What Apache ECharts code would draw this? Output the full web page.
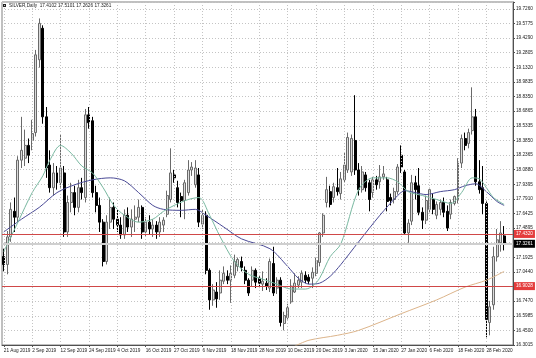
<!DOCTYPE html>
<html><head><meta charset="utf-8">
<script src="https://cdn.jsdelivr.net/npm/echarts@6/dist/echarts.min.js"></script>
<style>html,body{margin:0;padding:0;background:#fff;overflow:hidden}#c{width:536px;height:358px}</style>
</head><body><div id="c"></div>
<script>
const dates = [
'21 Aug 2019','22 Aug 2019','23 Aug 2019','26 Aug 2019','27 Aug 2019','28 Aug 2019','29 Aug 2019','30 Aug 2019',
'2 Sep 2019','3 Sep 2019','4 Sep 2019','5 Sep 2019','6 Sep 2019','9 Sep 2019','10 Sep 2019','11 Sep 2019','12 Sep 2019','13 Sep 2019','16 Sep 2019','17 Sep 2019','18 Sep 2019','19 Sep 2019','20 Sep 2019','23 Sep 2019','24 Sep 2019','25 Sep 2019','26 Sep 2019','27 Sep 2019','30 Sep 2019',
'1 Oct 2019','2 Oct 2019','3 Oct 2019','4 Oct 2019','7 Oct 2019','8 Oct 2019','9 Oct 2019','10 Oct 2019','11 Oct 2019','14 Oct 2019','15 Oct 2019','16 Oct 2019','17 Oct 2019','18 Oct 2019','21 Oct 2019','22 Oct 2019','23 Oct 2019','24 Oct 2019','25 Oct 2019','27 Oct 2019','28 Oct 2019','29 Oct 2019','30 Oct 2019','31 Oct 2019',
'1 Nov 2019','4 Nov 2019','5 Nov 2019','6 Nov 2019','7 Nov 2019','8 Nov 2019','11 Nov 2019','12 Nov 2019','13 Nov 2019','14 Nov 2019','15 Nov 2019','18 Nov 2019','19 Nov 2019','20 Nov 2019','21 Nov 2019','22 Nov 2019','25 Nov 2019','26 Nov 2019','27 Nov 2019','28 Nov 2019','29 Nov 2019',
'2 Dec 2019','3 Dec 2019','4 Dec 2019','5 Dec 2019','6 Dec 2019','9 Dec 2019','10 Dec 2019','11 Dec 2019','12 Dec 2019','13 Dec 2019','16 Dec 2019','17 Dec 2019','18 Dec 2019','19 Dec 2019','20 Dec 2019','23 Dec 2019','24 Dec 2019','26 Dec 2019','27 Dec 2019','30 Dec 2019','31 Dec 2019',
'2 Jan 2020','3 Jan 2020','6 Jan 2020','7 Jan 2020','8 Jan 2020','9 Jan 2020','10 Jan 2020','13 Jan 2020','14 Jan 2020','15 Jan 2020','16 Jan 2020','17 Jan 2020','20 Jan 2020','21 Jan 2020','22 Jan 2020','23 Jan 2020','24 Jan 2020','27 Jan 2020','28 Jan 2020','29 Jan 2020','30 Jan 2020','31 Jan 2020',
'3 Feb 2020','4 Feb 2020','5 Feb 2020','6 Feb 2020','7 Feb 2020','10 Feb 2020','11 Feb 2020','12 Feb 2020','13 Feb 2020','14 Feb 2020','17 Feb 2020','18 Feb 2020','19 Feb 2020','20 Feb 2020','21 Feb 2020','24 Feb 2020','25 Feb 2020','26 Feb 2020','27 Feb 2020','28 Feb 2020',
'2 Mar 2020','3 Mar 2020','4 Mar 2020','5 Mar 2020','6 Mar 2020',' ','  '
];
const opens = [17.20,17.12,17.40,17.66,17.60,18.18,18.20,18.33,18.38,18.46,19.20,19.52,18.62,18.13,17.90,18.05,17.95,18.05,17.45,17.75,17.85,17.70,17.90,17.80,18.64,18.58,17.85,17.72,17.55,17.15,17.55,17.70,17.58,17.52,17.42,17.62,17.50,17.58,17.60,17.70,17.45,17.55,17.48,17.52,17.45,17.52,17.63,17.78,18.03,17.90,17.81,17.77,17.85,18.08,17.93,18.03,17.53,17.62,17.06,16.76,16.84,16.83,16.95,17.00,16.96,17.01,17.10,17.15,17.06,16.96,16.96,17.06,16.98,16.92,16.93,16.88,17.13,16.88,16.96,16.52,16.58,16.74,16.84,16.91,16.94,17.01,16.99,16.98,17.03,17.14,17.44,17.75,17.86,17.80,17.90,17.84,17.98,18.08,18.06,18.38,18.08,17.88,18.03,17.95,17.85,17.98,17.96,18.01,17.98,17.80,17.78,17.86,18.23,18.06,17.44,17.56,17.95,17.92,17.65,17.57,17.68,17.78,17.62,17.68,17.75,17.66,17.63,17.74,17.78,18.15,18.40,18.35,18.48,18.62,17.96,17.90,17.74,16.53,16.71,17.20,17.34,17.4102];
const highs = [17.28,17.46,17.75,17.80,18.22,18.62,18.49,18.40,18.59,19.30,19.62,19.55,18.72,18.28,18.15,18.12,18.44,18.12,17.82,17.95,17.92,17.98,18.00,18.70,18.72,18.62,17.92,17.80,17.58,17.62,17.80,17.75,17.68,17.60,17.68,17.70,17.68,17.72,17.78,17.72,17.60,17.62,17.58,17.56,17.60,17.60,17.87,18.30,18.08,17.97,17.85,17.98,18.18,18.16,18.18,18.10,17.68,17.66,17.08,16.92,16.94,17.06,17.10,17.06,17.11,17.22,17.19,17.20,17.10,16.98,17.10,17.08,17.00,17.05,16.98,17.18,17.30,16.99,16.99,16.64,16.72,16.97,17.03,17.00,17.06,17.05,17.02,17.09,17.19,17.45,17.64,18.01,17.92,17.95,18.10,18.06,18.26,18.46,18.44,18.84,18.15,18.12,18.06,17.98,18.01,18.02,18.13,18.12,18.01,17.84,17.90,18.14,18.33,18.08,17.58,18.03,18.02,18.10,17.70,17.82,17.90,17.84,17.76,17.78,17.80,17.72,17.78,17.82,18.20,18.44,18.46,18.50,18.92,18.70,18.18,18.12,17.76,16.75,17.30,17.48,17.56,17.5101];
const lows = [17.05,17.02,17.35,17.45,17.55,18.10,18.12,18.15,18.28,18.42,19.12,18.55,18.00,17.85,17.82,17.88,17.90,17.40,17.40,17.65,17.62,17.65,17.78,17.75,18.50,17.80,17.65,17.45,17.10,17.12,17.48,17.48,17.45,17.38,17.38,17.45,17.40,17.45,17.55,17.38,17.40,17.42,17.40,17.38,17.40,17.45,17.60,17.75,17.95,17.70,17.60,17.58,17.82,18.02,17.90,17.50,17.48,17.02,16.66,16.70,16.68,16.76,16.92,16.92,16.73,16.98,17.05,17.05,16.92,16.80,16.90,16.88,16.88,16.85,16.86,16.84,16.80,16.82,16.49,16.45,16.56,16.72,16.83,16.88,16.88,16.93,16.92,16.88,17.00,17.10,17.40,17.70,17.70,17.75,17.82,17.78,17.95,18.05,18.02,18.03,17.82,17.85,17.86,17.66,17.80,17.88,17.89,17.98,17.66,17.72,17.74,17.83,18.05,17.42,17.34,17.52,17.78,17.62,17.48,17.53,17.64,17.63,17.58,17.62,17.60,17.46,17.58,17.72,17.74,18.10,18.28,18.30,18.44,17.92,17.84,17.63,16.38,16.40,16.66,17.15,17.25,17.2626];
const closes = [17.12,17.40,17.68,17.60,18.18,18.28,18.33,18.23,18.45,19.25,19.57,18.62,18.10,17.90,18.05,17.95,18.10,17.45,17.75,17.85,17.70,17.90,17.85,18.64,18.56,17.85,17.72,17.55,17.15,17.55,17.70,17.58,17.52,17.42,17.62,17.50,17.58,17.60,17.70,17.45,17.55,17.48,17.52,17.45,17.55,17.57,17.82,18.05,18.00,17.75,17.77,17.95,18.08,18.11,18.10,17.55,17.62,17.06,16.76,16.86,16.77,16.96,17.03,16.96,17.03,17.15,17.17,17.09,16.96,16.83,17.06,16.94,16.93,16.95,16.90,17.15,16.83,16.96,16.53,16.60,16.68,16.90,16.93,16.96,17.03,16.96,16.95,17.04,17.16,17.44,17.62,17.88,17.73,17.91,17.86,17.99,18.13,18.41,18.40,18.08,17.88,18.06,17.90,17.78,17.98,17.93,18.01,18.04,17.76,17.77,17.86,18.11,18.11,17.44,17.54,17.95,17.88,17.65,17.57,17.77,17.88,17.68,17.73,17.75,17.65,17.49,17.75,17.81,18.15,18.40,18.33,18.46,18.62,17.96,17.88,17.74,16.56,16.69,17.20,17.37,17.44,17.3261];
const maFast = [[0,17.25],[4,17.55],[8,17.85],[11,18.02],[13,18.18],[16,18.33],[19,18.25],[22,18.12],[25,18.05],[28,17.90],[31,17.72],[34,17.62],[38,17.55],[42,17.58],[45,17.66],[48,17.72],[52,17.78],[55,17.80],[58,17.62],[61,17.40],[65,17.15],[69,17.02],[73,16.97],[77,16.92],[81,16.87],[85,16.87],[87,16.90],[89,16.98],[92,17.20],[95,17.33],[100,17.88],[104,18.00],[108,18.00],[111,17.96],[114,17.86],[118,17.82],[122,17.78],[126,17.74],[129,17.85],[132,18.00],[134,17.99],[136,17.90],[138,17.80],[141,17.73]];
const maMid = [[0,17.45],[5,17.58],[10,17.70],[15,17.85],[20,17.93],[25,17.98],[30,18.00],[34,17.97],[38,17.85],[42,17.72],[45,17.68],[50,17.67],[54,17.68],[57,17.62],[62,17.50],[67,17.38],[75,17.28],[80,17.10],[83,16.98],[86,16.92],[89,16.93],[92,17.00],[95,17.12],[100,17.35],[106,17.62],[111,17.82],[113,17.87],[116,17.85],[119,17.83],[123,17.86],[127,17.88],[130,17.92],[133,17.94],[136,17.86],[139,17.76],[141,17.72]];
const maSlow = [[82,16.29],[86,16.35],[94,16.40],[100,16.45],[112,16.62],[122,16.76],[130,16.89],[136,16.96],[141,17.05]];
const priceTicks = ['16.3015','16.4500','16.5985','16.7470','16.8955','17.0440','17.1925','17.3410','17.4895','17.6425','17.7910','17.9395','18.0880','18.2365','18.3850','18.5335','18.6865','18.8350','18.9835','19.1320','19.2805','19.4290','19.5775','19.7260'];
const levels = [17.4320, 16.9028];
const lastPrice = 17.3261;
const headerText = 'SILVER,Daily  17.4102 17.5101 17.2626 17.3261';

const yMin = 16.3015, yStep = 0.1485, yMax = 19.787;
const FONT = 'Liberation Sans';
const FS = 4.7;
const candleData = opens.map((o, i) => [o, closes[i], lows[i], highs[i]]);

const vGrid = [];
for (let i = 0; i < opens.length; i += 8) vGrid.push({ xAxis: i });

const chart = echarts.init(document.getElementById('c'), null, { renderer: 'canvas' });
chart.setOption({
  animation: false,
  backgroundColor: '#ffffff',
  grid: { left: 2, right: 23, top: 2, bottom: 13, show: true, borderColor: '#808080', borderWidth: 1 },
  xAxis: {
    type: 'category', data: dates, boundaryGap: true,
    axisLine: { show: true, lineStyle: { color: '#505050' } },
    axisTick: { show: true, interval: 7, alignWithLabel: true, length: 2, lineStyle: { color: '#505050' } },
    axisLabel: { interval: 7, align: 'left', fontSize: FS, margin: 3, color: '#202020', fontFamily: FONT, showMinLabel: true, hideOverlap: false },
    splitLine: { show: false }
  },
  yAxis: {
    type: 'value', position: 'right', min: yMin, max: yMax, interval: yStep,
    axisLine: { show: true, lineStyle: { color: '#505050' } },
    axisTick: { show: true, length: 2, lineStyle: { color: '#505050' } },
    axisLabel: {
      fontSize: FS, color: '#202020', margin: 3, fontFamily: FONT,
      formatter: v => { const k = (v - yMin) / yStep; const r = Math.round(k); return Math.abs(k - r) < 0.02 ? (priceTicks[r] || '') : ''; }
    },
    splitLine: { show: true, lineStyle: { color: '#c4c4c4', type: [1, 2], width: 1 } }
  },
  graphic: [
    { type: 'rect', left: 3, top: 4, shape: { width: 3, height: 3 }, style: { fill: '#202020' } },
    { type: 'text', left: 9, top: 3, style: { text: headerText, fontSize: FS, fill: '#202020', fontFamily: FONT } }
  ],
  series: [
    {
      type: 'candlestick', data: candleData, barWidth: '70%',
      itemStyle: { color: '#dcdcdc', color0: '#000000', borderColor: '#6a6a6a', borderColor0: '#000000', borderWidth: 1 },
      markLine: {
        silent: true, symbol: 'none', animation: false,
        data: [
          ...vGrid.map(d => Object.assign(d, { lineStyle: { color: '#c4c4c4', type: [1, 2], width: 1 }, label: { show: false } })),
          { yAxis: lastPrice, lineStyle: { color: '#cfcfcf', type: 'solid', width: 2 },
            label: { show: true, position: 'end', distance: 1, formatter: lastPrice.toFixed(4), backgroundColor: '#000', color: '#fff', fontSize: FS, padding: [1.5, 2], fontFamily: FONT } },
          ...levels.map(v => ({ yAxis: v, lineStyle: { color: '#d04848', type: 'solid', width: 1 },
            label: { show: true, position: 'end', distance: 1, formatter: v.toFixed(4), backgroundColor: '#e43c3c', color: '#fff', fontSize: FS, padding: [1.5, 2], fontFamily: FONT } }))
        ]
      }
    },
    { type: 'line', data: maSlow, showSymbol: false, smooth: 0.3, lineStyle: { color: '#dcb48a', width: 1 }, silent: true },
    { type: 'line', data: maMid, showSymbol: false, smooth: 0.3, lineStyle: { color: '#4a4a96', width: 1 }, silent: true },
    { type: 'line', data: maFast, showSymbol: false, smooth: 0.3, lineStyle: { color: '#78b8a0', width: 1 }, silent: true }
  ]
});
</script>
</body></html>
